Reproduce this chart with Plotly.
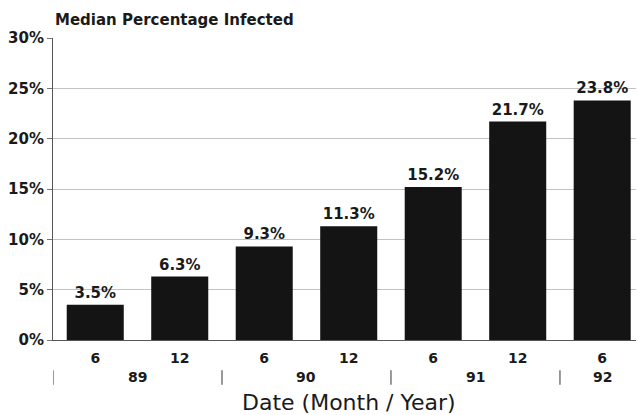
import plotly.graph_objects as go

months = ["6", "12", "6", "12", "6", "12", "6"]
years = ["89", "89", "90", "90", "91", "91", "92"]
values = [3.5, 6.3, 9.3, 11.3, 15.2, 21.7, 23.8]
y_ticks = [0, 5, 10, 15, 20, 25, 30]
y_tick_labels = [f"{v}%" for v in y_ticks]

x = list(range(len(values)))
FONT = "DejaVu Sans, Liberation Sans, Arial, sans-serif"
INK = "#1a1a1a"

fig = go.Figure()
fig.add_trace(go.Bar(
    x=x, y=values, width=0.675,
    marker=dict(color="#141414", line=dict(width=0)),
    text=[f"<b>{v:.1f}%</b>" for v in values],
    textposition="outside", cliponaxis=False,
    textfont=dict(family=FONT, size=15, color=INK),
))

# year group labels and separators
annotations = []
shapes = []
groups = []
for i, yv in enumerate(years):
    if not groups or groups[-1][0] != yv:
        groups.append([yv, [i]])
    else:
        groups[-1][1].append(i)
for yv, idx in groups:
    cx = sum(idx) / len(idx)
    annotations.append(dict(x=cx, y=-0.122, xref="x", yref="paper", yanchor="middle",
                            text=f"<b>{yv}</b>",
                            showarrow=False, font=dict(family=FONT, size=14, color=INK)))
    shapes.append(dict(type="line", xref="x", yref="paper", x0=idx[0] - 0.5, x1=idx[0] - 0.5,
                       y0=-0.1, y1=-0.148, line=dict(color="#555", width=1.2)))

annotations.append(dict(x=0, y=1.0, xref="paper", yref="paper", xanchor="left", yanchor="bottom",
                        yshift=7, text="<b>Median Percentage Infected</b>", showarrow=False,
                        font=dict(family=FONT, size=15, color=INK)))
annotations.append(dict(x=0.508, y=-0.208, xref="paper", yref="paper", xanchor="center", yanchor="middle",
                        text="Date (Month / Year)", showarrow=False,
                        font=dict(family=FONT, size=22, color=INK)))

fig.update_layout(
    width=638, height=415,
    margin=dict(l=53, r=2, t=38, b=75),
    paper_bgcolor="white", plot_bgcolor="white",
    showlegend=False,
    annotations=annotations,
    shapes=shapes,
    xaxis=dict(range=[-0.5, 6.4], tickvals=x, ticktext=[f"<b>{m}</b>" for m in months],
               tickfont=dict(family=FONT, size=14, color=INK), automargin=False,
               ticklabelstandoff=5,
               showgrid=False, zeroline=False, showline=True, linecolor="#555", linewidth=1,
               ticks="", ticklen=0),
    yaxis=dict(range=[0, 30], tickvals=y_ticks, ticktext=[f"<b>{t}</b>" for t in y_tick_labels],
               tickfont=dict(family=FONT, size=15, color=INK), automargin=False,
               showgrid=True, gridcolor="#c2c2c2", gridwidth=1,
               zeroline=False, showline=True, linecolor="#555", linewidth=1,
               ticks="outside", ticklen=5, tickcolor="#777"),
)

fig.write_html("out.html", config={"displayModeBar": False},
               post_script="document.body.style.margin='0';")
